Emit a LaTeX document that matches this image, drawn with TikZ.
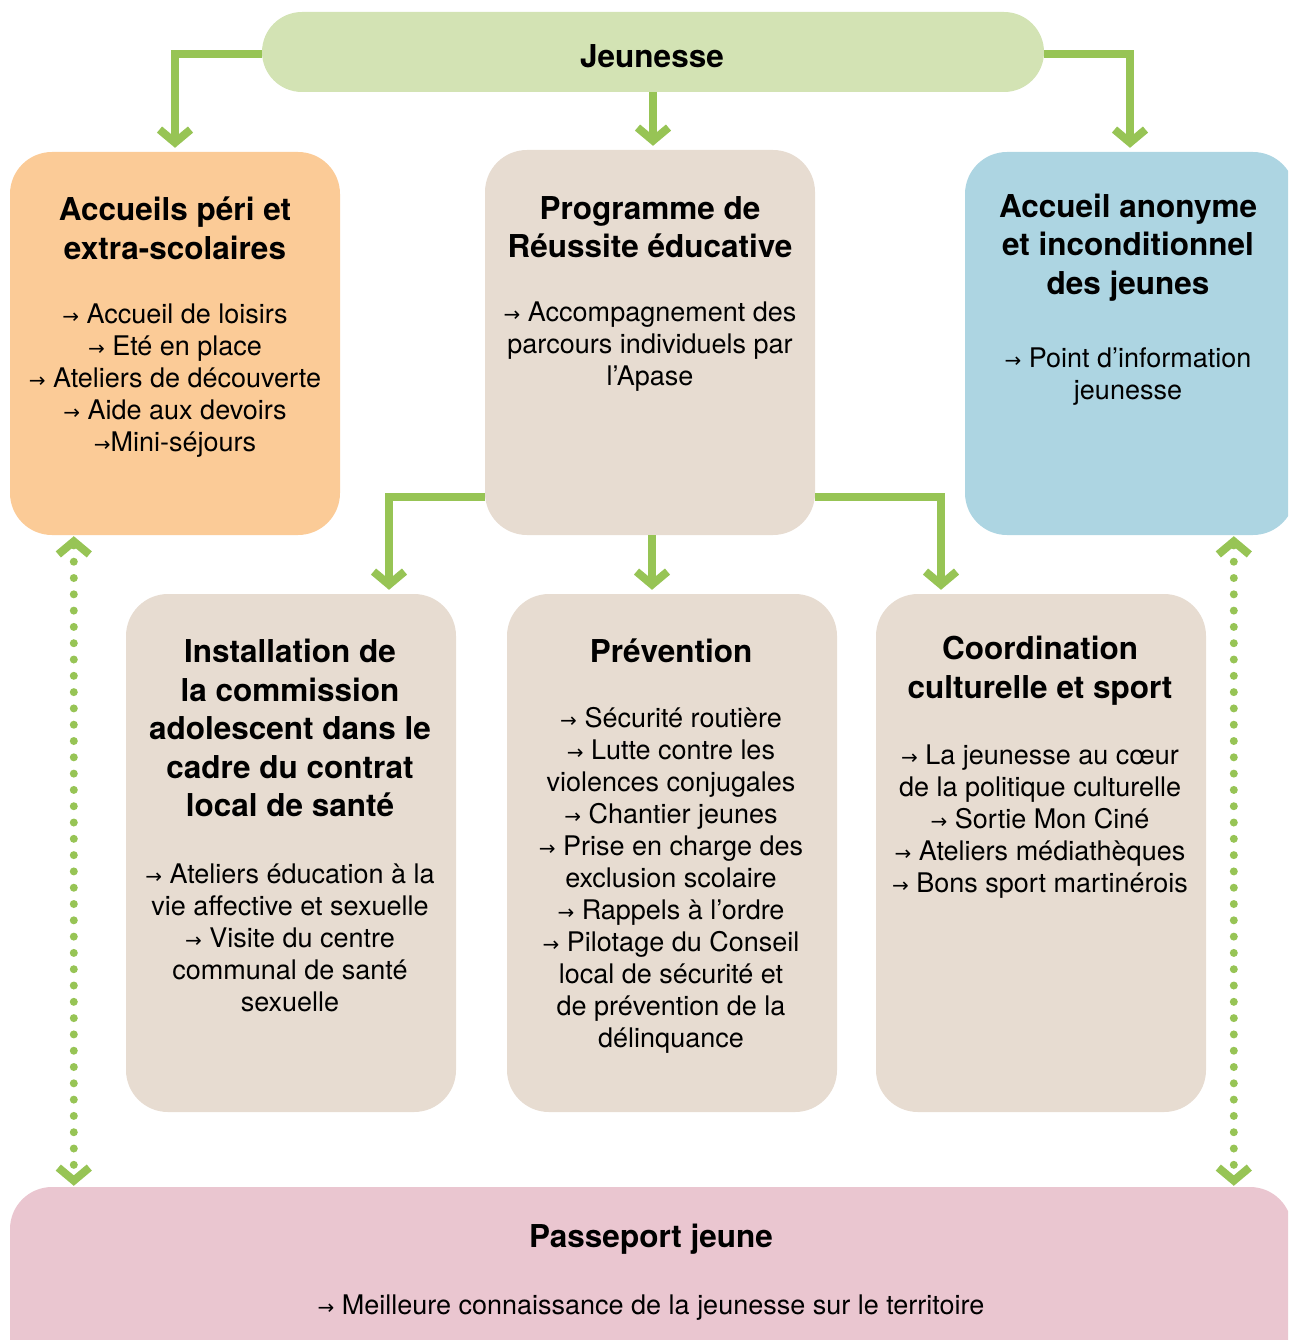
\documentclass[tikz,border=0pt]{standalone}
\usepackage{fontspec}
\setmainfont{TeX Gyre Heros}
\newfontfamily\djv{DejaVu Sans}
\usetikzlibrary{arrows.meta}
\definecolor{cgreen}{HTML}{97C455}
\definecolor{cjeu}{HTML}{D3E3B4}
\definecolor{corange}{HTML}{FBCB97}
\definecolor{cbeige}{HTML}{E7DCD1}
\definecolor{cblue}{HTML}{ADD5E2}
\definecolor{cpink}{HTML}{EAC6D0}
\newcommand\myar{{\djv\fontsize{20}{20}\selectfont →}}
\begin{document}
\begin{tikzpicture}[x=1pt,y=-1pt,
  box/.style={rectangle, rounded corners=42pt, inner sep=0pt, minimum width=330pt},
  ttl/.style={font=\bfseries\fontsize{31.5}{38.5}\selectfont, align=center, inner sep=0pt},
  bdy/.style={font=\fontsize{27}{32}\selectfont, align=center, inner sep=0pt},
  tipb/.tip={Straight Barb[sharp,length=13pt,width=31pt]},
  conn/.style={draw=cgreen, line width=8pt, -tipb, shorten >=4pt},
  dotline/.style={draw=cgreen, line width=8pt, line cap=round, dash pattern=on 0pt off 16.3pt, tipb-tipb}]
\useasboundingbox (0,0) rectangle (1288,1340);
\clip (0,0) rectangle (1288,1340);

% boxes
\node[box, fill=cjeu, rounded corners=40pt, minimum width=782pt, minimum height=80pt] (jeu) at (653,52) {};
\node[box, fill=corange, minimum height=383pt] (b1) at (175,343.5) {};
\node[box, fill=cbeige, minimum height=385pt] (b2) at (650,342.5) {};
\node[box, fill=cblue, minimum height=383pt] (b3) at (1130,343.5) {};
\node[box, fill=cbeige, minimum height=518pt] (b4) at (291,853) {};
\node[box, fill=cbeige, minimum height=518pt] (b5) at (672,853) {};
\node[box, fill=cbeige, minimum height=518pt] (b6) at (1041,853) {};
\node[box, fill=cpink, minimum width=1282pt, minimum height=193pt] (pass) at (651,1283.5) {};

% texts
\node[ttl] (t0) at (652,56) {Jeunesse};
\node[ttl] (t1) at (175,228.5) {Accueils péri et\\extra-scolaires};
\node[bdy] (d1) at (175,381) {\myar\ Accueil de loisirs\\\myar\ Eté en place\\\myar\ Ateliers de découverte\\\myar\ Aide aux devoirs\\\myar Mini-séjours};
\node[ttl] (t2) at (650,227) {Programme de\\Réussite éducative};
\node[bdy] (d2) at (650,347) {\myar\ Accompagnement des\\parcours individuels par\\l’Apase};
\node[ttl] (t3) at (1128,247.5) {Accueil anonyme\\et inconditionnel\\des jeunes};
\node[bdy] (d3) at (1128,377) {\myar\ Point d’information\\jeunesse};
\node[ttl] (t4) at (290,728) {Installation de\\la commission\\adolescent dans le\\cadre du contrat\\local de santé};
\node[bdy] (d4) at (290,938) {\myar\ Ateliers éducation à la\\vie affective et sexuelle\\\myar\ Visite du centre\\communal de santé\\sexuelle};
\node[ttl] (t5) at (671,651) {Prévention};
\node[bdy] (d5) at (671,880) {\myar\ Sécurité routière\\\myar\ Lutte contre les\\violences conjugales\\\myar\ Chantier jeunes\\\myar\ Prise en charge des\\exclusion scolaire\\\myar\ Rappels à l’ordre\\\myar\ Pilotage du Conseil\\local de sécurité et\\de prévention de la\\délinquance};
\node[ttl] (t6) at (1040,670.5) {Coordination\\culturelle et sport};
\node[bdy] (d6) at (1040,822) {\myar\ La jeunesse au cœur\\de la politique culturelle\\\myar\ Sortie Mon Ciné\\\myar\ Ateliers médiathèques\\\myar\ Bons sport martinérois};
\node[ttl] (t7) at (651,1239) {Passeport jeune};
\node[bdy] (d7) at (651,1308) {\myar\ Meilleure connaissance de la jeunesse sur le territoire};

% connectors
\draw[conn] ([yshift=-2pt]jeu.west) -| (b1.north);
\draw[conn] (jeu.south) -- (jeu.south |- b2.north);
\draw[conn] ([yshift=-2pt]jeu.east) -| (b3.north);
\draw[conn] ([yshift=38pt]b2.south west) -| ([xshift=98pt]b4.north);
\draw[conn] ([xshift=2pt]b2.south) -- ([xshift=2pt]b2.south |- b5.north);
\draw[conn] ([yshift=38pt]b2.south east) -| ([xshift=-100pt]b6.north);
\draw[dotline] ([xshift=64pt,yshift=-1pt]b1.south west) -- ([xshift=64pt,yshift=1pt]b1.south west |- pass.north);
\draw[dotline] ([xshift=269pt,yshift=-1pt]b3.south west) -- ([xshift=269pt,yshift=1pt]b3.south west |- pass.north);
\end{tikzpicture}
\end{document}
